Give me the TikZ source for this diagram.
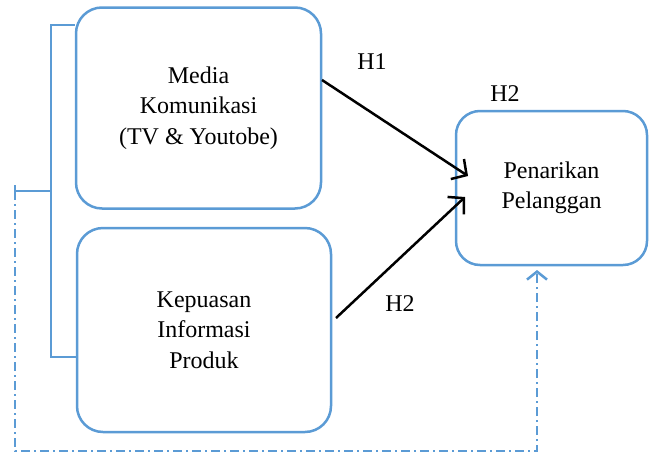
\documentclass[tikz,border=0pt]{standalone}
\usepackage{fontspec}
\setmainfont{Liberation Serif}
\usetikzlibrary{arrows.meta}
\definecolor{boxblue}{RGB}{91,155,213}
\begin{document}
\begin{tikzpicture}[x=1pt,y=-1pt,
  box/.style={draw=boxblue, line width=2.5pt, rounded corners=26pt, align=center,
     font=\fontsize{24}{30.5}\selectfont, inner sep=0pt},
  lbl/.style={font=\fontsize{24}{28}\selectfont, inner sep=0pt},
  arr/.style={line width=2.5pt, -{Straight Barb[length=11pt,width=24pt,line width=2.5pt]}},
  brk/.style={draw=boxblue, line width=1.5pt},
  dd/.style={draw=boxblue, line width=2.5pt, dash pattern=on 9pt off 4pt on 2pt off 4pt}]
\useasboundingbox (0,0) rectangle (653,453);
\node[box, minimum width=245pt, minimum height=201pt] (a) at (198.5,108) {Media\\Komunikasi\\(TV \& Youtobe)};
\node[box, minimum width=254pt, minimum height=204pt] (b) at (204,330) {Kepuasan\\Informasi\\Produk};
\node[box, rounded corners=24pt, minimum width=191pt, minimum height=154pt] (c) at (551.5,188) {Penarikan\\Pelanggan};
% labels
\node[lbl] (h1) at (372,62) {H1};
\node[lbl] (h2a) at (505,94) {H2};
\node[lbl] (h2b) at (400,304) {H2};
% arrows
\coordinate (s1) at (322,80);
\coordinate (e1) at (468,176);
\coordinate (s2) at (336,318);
\coordinate (e2) at (465,197);
\draw[arr] (s1) -- (e1);
\draw[arr] (s2) -- (e2);
% bracket
\coordinate (bt) at (51,25);
\coordinate (bb) at (51,357);
\coordinate (bm) at (51,191);
\coordinate (dl) at (15,191);
\draw[brk] (a.west |- bt) -- (bt) -- (bb) -- (b.west |- bb);
\draw[brk] (bm) -- (dl);
\draw[brk] (15,185) -- (15,197);
% dashed feedback
\coordinate (dc) at (15,451);
\coordinate (dr) at (537,451);
\coordinate (dt) at (537,270);
\draw[dd, -{Straight Barb[length=8pt,width=20pt,line width=2.5pt]}] (dl) -- (dc) -- (dr) -- (dt);
\end{tikzpicture}
\end{document}
